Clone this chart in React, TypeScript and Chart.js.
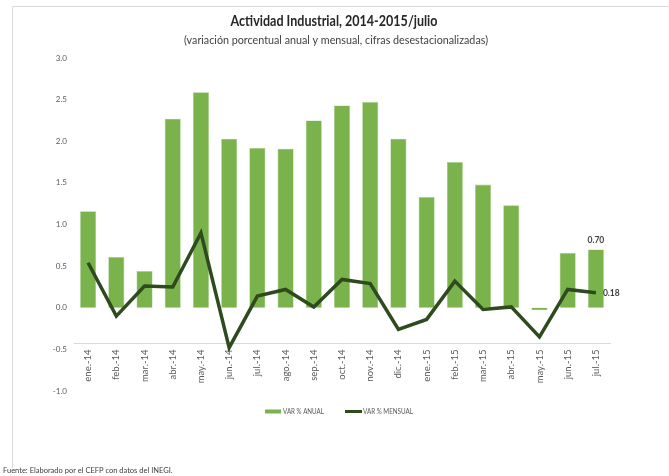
import React, { useEffect, useRef } from "react";
import { Chart, registerables } from "chart.js";

Chart.register(...registerables);

const categories = [
  "ene.-14", "feb.-14", "mar.-14", "abr.-14", "may.-14", "jun.-14", "jul.-14",
  "ago.-14", "sep.-14", "oct.-14", "nov.-14", "dic.-14", "ene.-15", "feb.-15",
  "mar.-15", "abr.-15", "may.-15", "jun.-15", "jul.-15",
];
const varAnual = [1.16, 0.61, 0.44, 2.27, 2.59, 2.03, 1.92, 1.91, 2.25, 2.43, 2.47, 2.03, 1.33, 1.75, 1.48, 1.23, -0.03, 0.66, 0.70];
const varMensual = [0.54, -0.10, 0.26, 0.25, 0.90, -0.48, 0.14, 0.22, 0.01, 0.34, 0.29, -0.26, -0.14, 0.32, -0.02, 0.01, -0.35, 0.22, 0.18];
const yTickMin = -1.0;
const yTickMax = 3.0;
const yTickStep = 0.5;

const TITLE = "Actividad Industrial, 2014-2015/julio";
const SUBTITLE = "(variación porcentual anual y mensual, cifras desestacionalizadas)";
const FOOTER = "Fuente: Elaborado por el CEFP con datos del INEGI.";

const FONT = "'Liberation Sans Narrow', Lato, 'Liberation Sans', sans-serif";
const BAR_COLOR = "#7AB24B";
const LINE_COLOR = "#2E4A1F";

const decorPlugin = {
  id: "decor",
  beforeDraw(chart: any) {
    const ctx = chart.ctx;
    ctx.save();
    ctx.fillStyle = "#ffffff";
    ctx.fillRect(0, 0, chart.width, chart.height);
    ctx.strokeStyle = "#d9d9d9";
    ctx.lineWidth = 1;
    ctx.beginPath();
    ctx.moveTo(12.5, 468);
    ctx.lineTo(12.5, 6.5);
    ctx.lineTo(chart.width, 6.5);
    ctx.stroke();
    ctx.restore();
  },
  afterDraw(chart: any) {
    const ctx = chart.ctx;
    ctx.save();
    ctx.textBaseline = "middle";
    // title
    ctx.fillStyle = "#262626";
    ctx.textAlign = "center";
    ctx.font = `bold 15px ${FONT}`;
    ctx.fillText(TITLE, 334, 21, 207);
    ctx.font = `11px ${FONT}`;
    ctx.fillStyle = "#404040";
    ctx.fillText(SUBTITLE, 336, 40, 304);
    // footer
    ctx.textAlign = "left";
    ctx.font = `7.5px ${FONT}`;
    ctx.fillStyle = "#404040";
    ctx.fillText(FOOTER, 3, 471, 183);
    // legend
    const ds = chart.data.datasets;
    ctx.font = `7px ${FONT}`;
    ctx.fillStyle = ds[0].backgroundColor;
    ctx.fillRect(265, 409.5, 16, 4);
    ctx.fillStyle = "#595959";
    ctx.fillText(ds[0].label, 283, 411.5, 41);
    ctx.strokeStyle = ds[1].borderColor;
    ctx.lineWidth = 3;
    ctx.beginPath();
    ctx.moveTo(345, 411.5);
    ctx.lineTo(362, 411.5);
    ctx.stroke();
    ctx.fillStyle = "#595959";
    ctx.fillText(ds[1].label, 363, 411.5, 50);
    // data labels for the last point
    const last = categories.length - 1;
    const barEl = chart.getDatasetMeta(0).data[last];
    const lineEl = chart.getDatasetMeta(1).data[last];
    ctx.font = `bold 8.5px ${FONT}`;
    ctx.fillStyle = "#404040";
    ctx.textAlign = "center";
    ctx.fillText(varAnual[last].toFixed(2), barEl.x, barEl.y - 9);
    ctx.textAlign = "left";
    ctx.fillText(varMensual[last].toFixed(2), lineEl.x + 7, lineEl.y + 1);
    ctx.restore();
  },
};

export default function App() {
  const ref = useRef<HTMLCanvasElement | null>(null);
  useEffect(() => {
    if (!ref.current) return;
    const chart = new Chart(ref.current, {
      type: "bar",
      data: {
        labels: categories,
        datasets: [
          {
            type: "bar",
            label: "VAR % ANUAL",
            data: varAnual,
            backgroundColor: BAR_COLOR,
            borderColor: "#a8cf8a",
            borderWidth: 0.6,
            categoryPercentage: 1,
            barPercentage: 0.57,
            order: 2,
          },
          {
            type: "line",
            label: "VAR % MENSUAL",
            data: varMensual,
            borderColor: LINE_COLOR,
            backgroundColor: LINE_COLOR,
            borderWidth: 3.5,
            pointRadius: 0,
            tension: 0,
            order: 1,
          },
        ] as any,
      },
      options: {
        animation: false,
        responsive: false,
        layout: { padding: { left: 0, right: 59, top: 58, bottom: 85 } },
        plugins: {
          legend: { display: false },
          title: { display: false },
          tooltip: { enabled: false },
        },
        scales: {
          x: {
            type: "category",
            position: { y: -0.43 } as any,
            offset: true,
            grid: { display: false, drawTicks: false },
            border: { display: true, color: "#d9d9d9", width: 1 },
            ticks: {
              minRotation: 90,
              maxRotation: 90,
              autoSkip: false,
              padding: 6,
              color: "#595959",
              font: { family: FONT, size: 9.5 },
            },
          },
          y: {
            min: yTickMin,
            max: yTickMax,
            grid: { display: false, drawTicks: false },
            border: { display: false },
            afterFit(scale: any) {
              scale.width = 74;
            },
            ticks: {
              stepSize: yTickStep,
              padding: 7,
              color: "#595959",
              font: { family: FONT, size: 8 },
              callback: (v: any) => Number(v).toFixed(1),
            },
          },
        },
      },
      plugins: [decorPlugin],
    });
    return () => chart.destroy();
  }, []);
  return (
    <div style={{ position: "fixed", left: 0, top: 0, width: 669, height: 476 }}>
      <canvas ref={ref} width={669} height={476} />
    </div>
  );
}
